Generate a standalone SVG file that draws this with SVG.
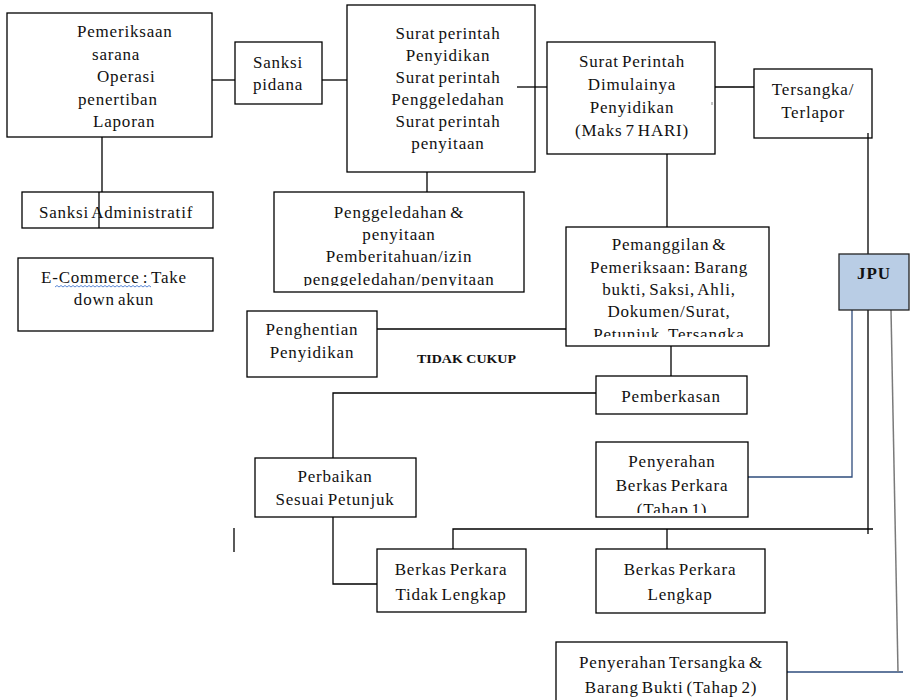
<svg xmlns="http://www.w3.org/2000/svg" width="912" height="700" viewBox="0 0 912 700">
<defs>
<style>
.bx{fill:#ffffff;stroke:#000;stroke-width:1.3}
.jpu{fill:#b9cde5;stroke:#222;stroke-width:1.3}
.t{font-family:"Liberation Serif","Times New Roman",serif;font-size:17px;fill:#111;letter-spacing:0.8px;word-spacing:-2px}
.c{text-anchor:middle}
.b{font-weight:bold}
.ln{fill:none;stroke:#000;stroke-width:1.3}
.nv{fill:none;stroke:#2e4c7c;stroke-width:1.3}
.gr{fill:none;stroke:#7a7a7a;stroke-width:1.5}
</style>
<clipPath id="clipGeledah"><rect x="274" y="192" width="250" height="94"/></clipPath>
<clipPath id="clipPanggil"><rect x="566" y="227" width="203" height="110"/></clipPath>
<clipPath id="clipTahap1"><rect x="596" y="442" width="152" height="71"/></clipPath>
</defs>
<rect width="912" height="700" fill="#ffffff"/>

<g id="connectors">
<line class="ln" x1="212" y1="80" x2="235" y2="80"/>
<line class="ln" x1="322" y1="80" x2="347" y2="80"/>
<line class="ln" x1="517" y1="87" x2="547" y2="87"/>
<line class="ln" x1="715" y1="87" x2="754" y2="87"/>
<line class="ln" x1="102" y1="137" x2="102" y2="192"/>
<line class="ln" x1="427" y1="172" x2="427" y2="192"/>
<line class="ln" x1="667" y1="154" x2="667" y2="227"/>
<line class="ln" x1="868" y1="133" x2="868" y2="254"/>
<line class="ln" x1="377" y1="329" x2="566" y2="329"/>
<line class="ln" x1="671" y1="346" x2="671" y2="376"/>
<polyline class="ln" points="596,393 333,393 333,458"/>
<polyline class="ln" points="333,517 333,584 377,584"/>
<polyline class="ln" points="453,549 453,529 873,529"/>
<line class="ln" x1="868" y1="310" x2="868" y2="534"/>
<line class="ln" x1="667" y1="529" x2="667" y2="549"/>
<polyline class="nv" points="748,477 852,477 852,310"/>
<polyline class="nv" points="787,672 903,672"/>
<line class="gr" x1="891" y1="310" x2="898" y2="672"/>
<line class="ln" x1="234" y1="528" x2="234" y2="552"/>
</g>

<g id="n-pemeriksaan">
<rect class="bx" x="7" y="13" width="205" height="124"/>
<text class="t" x="77" y="37">Pemeriksaan</text>
<text class="t" x="92" y="59.5">sarana</text>
<text class="t" x="97" y="82">Operasi</text>
<text class="t" x="78" y="104.5">penertiban</text>
<text class="t" x="93" y="127">Laporan</text>
</g>

<g id="n-sanksi-pidana">
<rect class="bx" x="235" y="42" width="87" height="62"/>
<text class="t c" x="278" y="68">Sanksi</text>
<text class="t c" x="278" y="90">pidana</text>
</g>

<g id="n-surat-perintah">
<rect class="bx" x="347" y="5" width="188" height="167"/>
<text class="t c" x="448" y="39">Surat perintah</text>
<text class="t c" x="448" y="61">Penyidikan</text>
<text class="t c" x="448" y="83">Surat perintah</text>
<text class="t c" x="448" y="105">Penggeledahan</text>
<text class="t c" x="448" y="127">Surat perintah</text>
<text class="t c" x="448" y="149">penyitaan</text>
<line class="ln" x1="517" y1="87" x2="535" y2="87"/>
</g>

<g id="n-spdp">
<rect class="bx" x="547" y="42" width="168" height="112"/>
<text class="t c" x="632" y="67">Surat Perintah</text>
<text class="t c" x="632" y="90">Dimulainya</text>
<text class="t c" x="632" y="113">Penyidikan</text>
<text class="t c" x="632" y="136">(Maks 7 HARI)</text>
<line x1="712" y1="102" x2="712" y2="105" stroke="#888" stroke-width="1"/>
</g>

<g id="n-tersangka">
<rect class="bx" x="754" y="69" width="118" height="69"/>
<text class="t c" x="813" y="95">Tersangka/</text>
<text class="t c" x="813" y="118">Terlapor</text>
<line class="ln" x1="868" y1="133" x2="868" y2="138"/>
</g>

<g id="n-sanksi-admin">
<rect class="bx" x="22" y="192" width="191" height="36"/>
<text class="t c" x="116" y="218">Sanksi Administratif</text>
<line class="ln" x1="99" y1="192" x2="99" y2="228"/>
</g>

<g id="n-ecommerce">
<rect class="bx" x="18" y="258" width="195" height="73"/>
<text class="t c" x="114" y="283">E-Commerce : Take</text>
<text class="t c" x="114" y="305">down akun</text>
<path d="M55,287 l2,-1.5 l2,1.5 l2,-1.5 l2,1.5 l2,-1.5 l2,1.5 l2,-1.5 l2,1.5 l2,-1.5 l2,1.5 l2,-1.5 l2,1.5 l2,-1.5 l2,1.5 l2,-1.5 l2,1.5 l2,-1.5 l2,1.5 l2,-1.5 l2,1.5 l2,-1.5 l2,1.5 l2,-1.5 l2,1.5 l2,-1.5 l2,1.5 l2,-1.5 l2,1.5 l2,-1.5 l2,1.5 l2,-1.5 l2,1.5 l2,-1.5 l2,1.5 l2,-1.5 l2,1.5 l2,-1.5 l2,1.5 l2,-1.5 l2,1.5 l2,-1.5 l2,1.5 l2,-1.5 l2,1.5 l2,-1.5 l2,1.5 l2,-1.5 l2,1.5" fill="none" stroke="#4a7bd0" stroke-width="0.9"/>
</g>

<g id="n-penggeledahan">
<rect class="bx" x="274" y="192" width="250" height="100"/>
<g clip-path="url(#clipGeledah)">
<text class="t c" x="399" y="218">Penggeledahan &amp;</text>
<text class="t c" x="399" y="240">penyitaan</text>
<text class="t c" x="399" y="262">Pemberitahuan/izin</text>
<text class="t c" x="399" y="285">penggeledahan/penyitaan</text>
</g>
</g>

<g id="n-pemanggilan">
<rect class="bx" x="566" y="227" width="203" height="119"/>
<g clip-path="url(#clipPanggil)">
<text class="t c" x="669" y="250">Pemanggilan &amp;</text>
<text class="t c" x="669" y="273">Pemeriksaan: Barang</text>
<text class="t c" x="669" y="295">bukti, Saksi, Ahli,</text>
<text class="t c" x="669" y="317">Dokumen/Surat,</text>
<text class="t c" x="669" y="340">Petunjuk, Tersangka</text>
</g>
</g>

<g id="n-jpu">
<rect class="jpu" x="839" y="254" width="70" height="56"/>
<text class="t c b" x="874" y="279" style="font-size:17px;letter-spacing:1px">JPU</text>
</g>

<g id="l-tidak-cukup">
<text class="t b" x="417" y="363" style="font-size:13px;letter-spacing:0;word-spacing:0" textLength="99" lengthAdjust="spacingAndGlyphs">TIDAK CUKUP</text>
</g>

<g id="n-penghentian">
<rect class="bx" x="247" y="311" width="130" height="66"/>
<text class="t c" x="312" y="335">Penghentian</text>
<text class="t c" x="312" y="358">Penyidikan</text>
</g>

<g id="n-pemberkasan">
<rect class="bx" x="596" y="376" width="151" height="38"/>
<text class="t c" x="671" y="402">Pemberkasan</text>
</g>

<g id="n-perbaikan">
<rect class="bx" x="255" y="458" width="161" height="59"/>
<text class="t c" x="335" y="482">Perbaikan</text>
<text class="t c" x="335" y="505">Sesuai Petunjuk</text>
</g>

<g id="n-tahap1">
<rect class="bx" x="596" y="442" width="152" height="75"/>
<g clip-path="url(#clipTahap1)">
<text class="t c" x="672" y="467">Penyerahan</text>
<text class="t c" x="672" y="491">Berkas Perkara</text>
<text class="t c" x="672" y="515">(Tahap 1)</text>
</g>
</g>

<g id="n-tidak-lengkap">
<rect class="bx" x="377" y="549" width="149" height="63"/>
<text class="t c" x="451" y="575">Berkas Perkara</text>
<text class="t c" x="451" y="600">Tidak Lengkap</text>
</g>

<g id="n-lengkap">
<rect class="bx" x="596" y="549" width="169" height="64"/>
<text class="t c" x="680" y="575">Berkas Perkara</text>
<text class="t c" x="680" y="600">Lengkap</text>
</g>

<g id="n-tahap2">
<rect class="bx" x="556" y="642" width="231" height="70"/>
<text class="t c" x="671" y="668">Penyerahan Tersangka &amp;</text>
<text class="t c" x="671" y="693">Barang Bukti (Tahap 2)</text>
</g>
</svg>
